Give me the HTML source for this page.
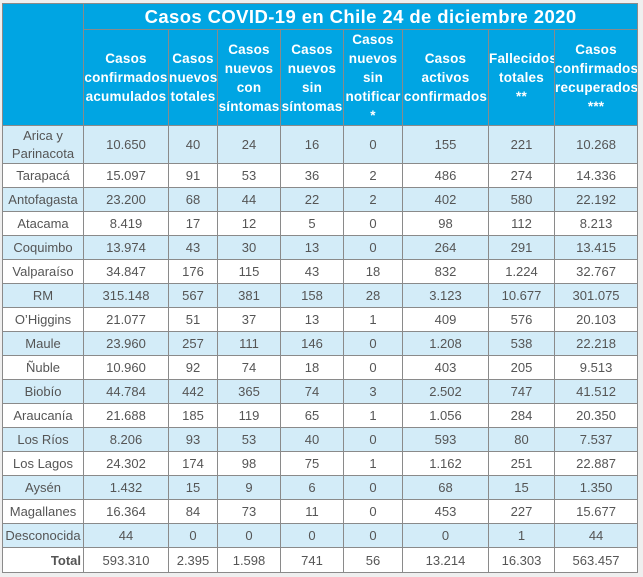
<!DOCTYPE html>
<html><head><meta charset="utf-8">
<style>
html,body{margin:0;padding:0;background:#efefef;width:643px;height:577px;overflow:hidden}
#wrap{position:absolute;left:2px;top:3px;width:635px;height:570px;background:#fff}
table{border-collapse:collapse;table-layout:fixed;width:635px;font-family:"Liberation Sans",sans-serif;border:1.5px solid #444}
td,th{border:1px solid #8a8a8a;padding:0;text-align:center;color:#555;font-size:13px;overflow:hidden;white-space:nowrap}
th{background:#00a5e3;color:#fff;font-weight:bold;font-size:13.5px;line-height:19px;letter-spacing:0.2px}
th.title{font-size:18.5px;height:25px;line-height:25px;letter-spacing:0.4px}
tr.h th{height:95px}
tr.s td{background:#d3ecf8}
tbody tr td{height:23px}
tbody tr.a td{height:37px;line-height:18px}
tr.tot td{height:24px}
tr.tot td.lbl{text-align:right;font-weight:bold;padding-right:2px}
</style></head><body>
<div id="wrap">
<table>
<colgroup><col style="width:81px"><col style="width:85px"><col style="width:49px"><col style="width:63px"><col style="width:63px"><col style="width:59px"><col style="width:86px"><col style="width:66px"><col style="width:83px"></colgroup>
<thead>
<tr><th rowspan="2"></th><th colspan="8" class="title">Casos COVID-19 en Chile 24 de diciembre 2020</th></tr>
<tr class="h">
<th>Casos<br>confirmados<br>acumulados</th>
<th>Casos<br>nuevos<br>totales</th>
<th>Casos<br>nuevos<br>con<br>síntomas</th>
<th>Casos<br>nuevos<br>sin<br>síntomas</th>
<th>Casos<br>nuevos<br>sin<br>notificar<br>*</th>
<th>Casos<br>activos<br>confirmados</th>
<th>Fallecidos<br>totales<br>**</th>
<th>Casos<br>confirmados<br>recuperados<br>***</th>
</tr></thead>
<tbody id="tb"></tbody>
</table></div>
<script>
const regions=["Arica y<br>Parinacota","Tarapacá","Antofagasta","Atacama","Coquimbo","Valparaíso","RM","O’Higgins","Maule","Ñuble","Biobío","Araucanía","Los Ríos","Los Lagos","Aysén","Magallanes","Desconocida","Total"];
const acumulados=["10.650","15.097","23.200","8.419","13.974","34.847","315.148","21.077","23.960","10.960","44.784","21.688","8.206","24.302","1.432","16.364","44","593.310"];
const nuevos=["40","91","68","17","43","176","567","51","257","92","442","185","93","174","15","84","0","2.395"];
const conSint=["24","53","44","12","30","115","381","37","111","74","365","119","53","98","9","73","0","1.598"];
const sinSint=["16","36","22","5","13","43","158","13","146","18","74","65","40","75","6","11","0","741"];
const sinNotif=["0","2","2","0","0","18","28","1","0","0","3","1","0","1","0","0","0","56"];
const activos=["155","486","402","98","264","832","3.123","409","1.208","403","2.502","1.056","593","1.162","68","453","0","13.214"];
const fallecidos=["221","274","580","112","291","1.224","10.677","576","538","205","747","284","80","251","15","227","1","16.303"];
const recuperados=["10.268","14.336","22.192","8.213","13.415","32.767","301.075","20.103","22.218","9.513","41.512","20.350","7.537","22.887","1.350","15.677","44","563.457"];
const cols=[acumulados,nuevos,conSint,sinSint,sinNotif,activos,fallecidos,recuperados];
const tb=document.getElementById('tb');
regions.forEach((r,i)=>{
  const tr=document.createElement('tr');
  
  
  let cls=i%2===0?'s':'';
  if(i===0)cls+=' a';
  if(i===regions.length-1)cls='tot';
  tr.className=cls;
  const td=document.createElement('td');
  td.className='lbl';td.innerHTML=r;
  
  
  tr.appendChild(td);
  cols.forEach(c=>{
    const d=document.createElement('td');
    d.textContent=c[i];
    
    
    tr.appendChild(d);
  });
  tb.appendChild(tr);
});
</script>
</body></html>
